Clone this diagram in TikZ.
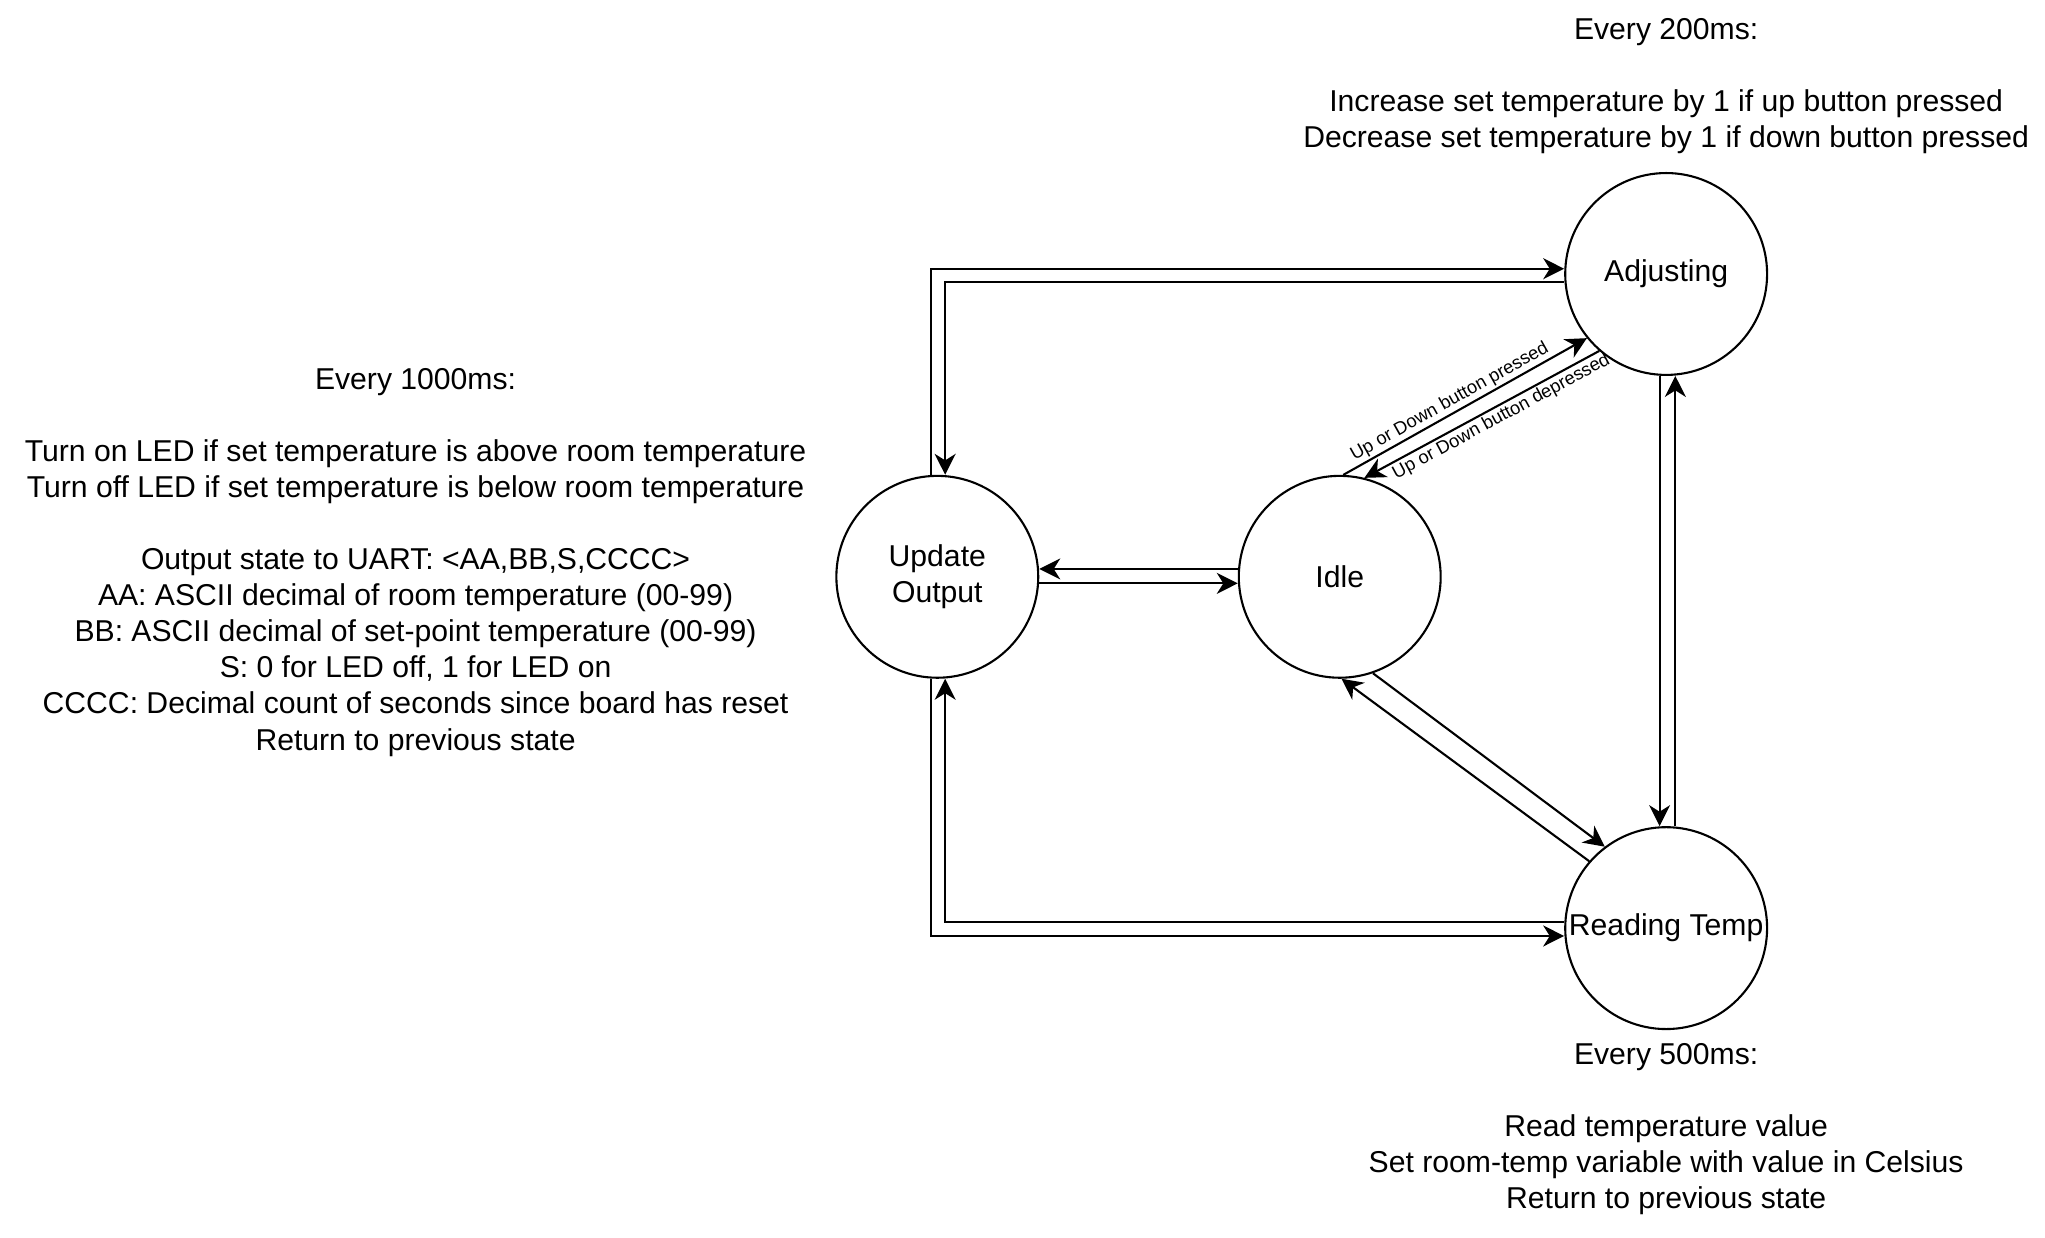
\documentclass[tikz,border=0pt]{standalone}
\usepackage{fontspec}
\setmainfont{Liberation Sans}
\usetikzlibrary{arrows.meta,calc}
\begin{document}
\begin{tikzpicture}[x=1pt,y=-1pt,
  state/.style={circle,draw,line width=1.6pt,minimum size=154pt,inner sep=0pt,font=\fontsize{23}{27.5}\selectfont,align=center},
  txt/.style={align=center,font=\fontsize{23}{27.5}\selectfont,inner sep=0pt},
  tipstyle/.style={line width=1.6pt},
  arr/.style={tipstyle,-{Stealth[length=16pt,width=16pt,inset=5pt]}},
  rarr/.style={tipstyle,{Stealth[length=16pt,width=16pt,inset=5pt]}-},
  lab/.style={font=\fontsize{14}{16}\selectfont,inner sep=1.5pt}]
\useasboundingbox (0,0) rectangle (1560,944);
% states
\node[state] (adj) at (1271,209) {Adjusting};
\node[state] (uo) at (715,440) {Update\\Output};
\node[state] (idle) at (1022,440) {Idle};
\node[state] (rt) at (1271,708) {Reading Temp};
% texts
\node[txt] (t200) at (1271,66) {Every 200ms:\\[27.5pt]Increase set temperature by 1 if up button pressed\\Decrease set temperature by 1 if down button pressed};
\node[txt] (t1000) at (317,429) {Every 1000ms:\\[27.5pt]Turn on LED if set temperature is above room temperature\\Turn off LED if set temperature is below room temperature\\[27.5pt]Output state to UART: <AA,BB,S,CCCC>\\AA: ASCII decimal of room temperature (00-99)\\BB: ASCII decimal of set-point temperature (00-99)\\S: 0 for LED off, 1 for LED on\\CCCC: Decimal count of seconds since board has reset\\Return to previous state};
\node[txt] (t500) at (1271,861.5) {Every 500ms:\\[27.5pt]Read temperature value\\Set room-temp variable with value in Celsius\\Return to previous state};
% connectors
\draw[arr] ([xshift=-5pt]uo.north) |- ([yshift=4pt]adj.west);
\draw[arr] ([yshift=-6pt]adj.west) -| ([xshift=6pt]uo.north);
\draw[arr] ([yshift=6pt]idle.west) -- ([yshift=6pt]uo.east);
\draw[arr] ([yshift=-5pt]uo.east) -- ([yshift=-5pt]idle.west);
\draw[arr] (idle.88) -- node[lab,above,sloped,pos=0.46] {Up or Down button pressed} (adj.219);
\draw[rarr] (idle.76) -- node[lab,below,sloped,pos=0.56] {Up or Down button depressed} (adj.229);
\draw[arr] ([xshift=-5pt]adj.south) -- ([xshift=-5pt]rt.north);
\draw[arr] ([xshift=7pt]rt.north) -- ([xshift=7pt]adj.south);
\draw[arr] (idle.289) -- (rt.127);
\draw[arr] (rt.139) -- (idle.271);
\draw[arr] ([yshift=5pt]rt.west) -| ([xshift=6pt]uo.south);
\draw[arr] ([xshift=-5pt]uo.south) |- ([yshift=-6pt]rt.west);
\end{tikzpicture}
\end{document}
